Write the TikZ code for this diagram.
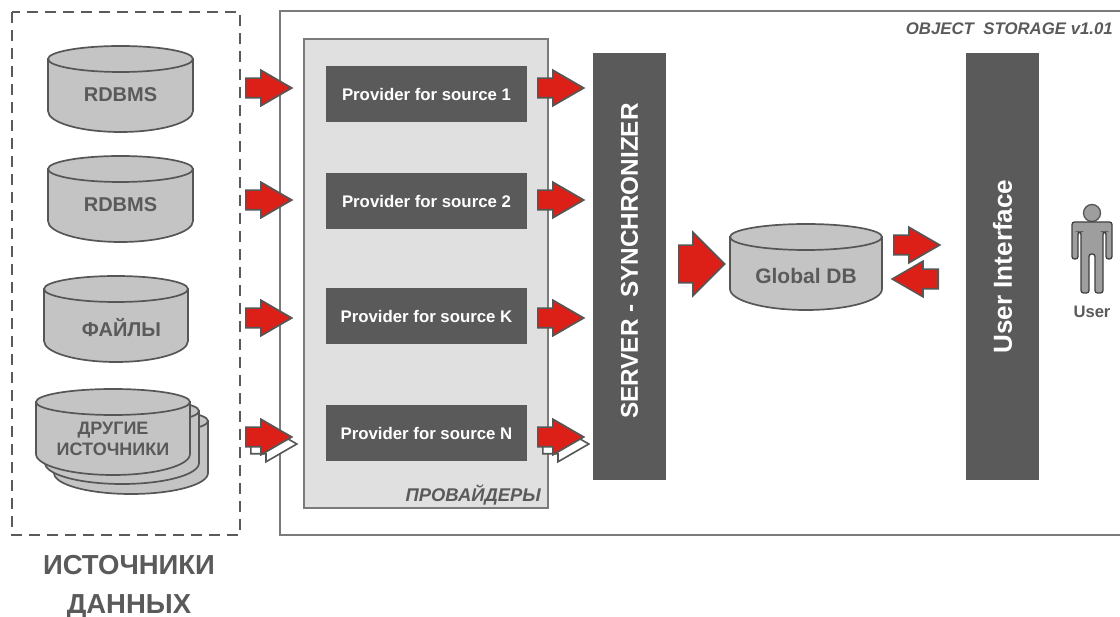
\documentclass[tikz,border=0pt]{standalone}
\usepackage{fontspec}
\setmainfont{Liberation Sans}
\usetikzlibrary{shapes.arrows}
\definecolor{darkgrey}{HTML}{5A5A5A}
\definecolor{edgegrey}{HTML}{565656}
\definecolor{cylgrey}{HTML}{C4C4C4}
\definecolor{panelgrey}{HTML}{E0E0E0}
\definecolor{flowred}{HTML}{DC1F17}
\newcommand{\fsize}[1]{\fontsize{#1}{#1}\selectfont\bfseries}
\tikzset{
    flow/.style={single arrow, anchor=tail, draw=edgegrey, fill=flowred, line width=1.6pt, inner xsep=0pt, inner ysep=9pt,
        single arrow tip angle=60, single arrow head extend=8pt, minimum width=34pt, minimum height=46pt},
    flowback/.style={flow, fill=white},
    provider/.style={fill=darkgrey, text=white, minimum width=201pt, minimum height=56pt, inner sep=0pt, font=\fsize{16.8}},
    pillar/.style={fill=darkgrey, text=white, rotate=90, minimum width=427pt, minimum height=73pt, inner sep=0pt},
    cyltext/.style={text=darkgrey, align=center, inner sep=0pt},
    caption/.style={text=darkgrey, inner sep=0pt}
}
% cylinder: name, x, y of top ellipse, half width, text
\newcommand{\dbcyl}[5]{
    \draw [draw=edgegrey, fill=cylgrey, line width=1.7pt] (#2-#4,#3) -- (#2-#4,#3+52)
        arc [start angle=180, end angle=0, x radius=#4, y radius=21] -- (#2+#4,#3) -- cycle;
    \draw [draw=edgegrey, fill=cylgrey, line width=1.7pt] (#2,#3) ellipse [x radius=#4, y radius=13];
    \node [cyltext, font=\fsize{20}] (#1) at (#2,#3+36) {#5};
}
\begin{document}
\begin{tikzpicture}[x=1pt, y=-1pt]
    \useasboundingbox (0,0) rectangle (1120,617);
    % frames
    \draw [draw=darkgrey, line width=1.1pt, dash pattern=on 11pt off 7pt] (12,12) rectangle (240,535);
    \draw [draw=darkgrey!80, line width=1.1pt] (1120,11) -- (280,11) -- (280,535) -- (1120,535);
    \node [fill=panelgrey, draw=darkgrey!80, line width=1.1pt, minimum width=244pt, minimum height=469pt, inner sep=0pt] (panel) at (426,273.5) {};
    % sources
    \dbcyl{rdbmsa}{120.5}{59}{72.5}{RDBMS}
    \dbcyl{rdbmsb}{120.5}{169}{72.5}{RDBMS}
    \dbcyl{filesbody}{116}{289}{72}{}
    \node [cyltext, font=\fsize{20}] (files) at (121.5,328) {ФАЙЛЫ};
    \dbcyl{stackc}{131}{421}{77}{}
    \dbcyl{stackb}{122}{411}{77}{}
    \dbcyl{others}{113}{402}{77}{}
    \node [cyltext, font=\fsize{18}] (otherstext) at (113,439) {ДРУГИЕ\\[3pt]ИСТОЧНИКИ};
    % providers
    \node [provider] (provone) at (426.5,94) {Provider for source 1};
    \node [provider] (provtwo) at (426.5,201) {Provider for source 2};
    \node [provider] (provk) at (426.5,316) {Provider for source K};
    \node [provider] (provn) at (426.5,433) {Provider for source N};
    % columns
    \node [pillar, font=\fsize{24.3}] (server) at (629.5,266.5) {\hspace*{11pt}SERVER - SYNCHRONIZER};
    \node [pillar, font=\fsize{26.1}] (ui) at (1002.5,266.5) {User Interface};
    \dbcyl{globaldb}{806}{237}{76}{}
    \node [cyltext, font=\fsize{21}] (dbtext) at (806,276) {Global DB};
    % user
    \node [circle, draw=edgegrey, fill=black!38, line width=1.3pt, minimum size=17pt, inner sep=0pt] (head) at (1092,213) {};
    \draw [draw=black!75, fill=black!38, line width=1.3pt, rounded corners=2.5pt] (1072,222) -- (1112,222) -- (1112,259) -- (1106,259) -- (1106,232)
        -- (1103,232) -- (1103,293) -- (1095,293) -- (1095,254) -- (1089,254) -- (1089,293) -- (1081,293)
        -- (1081,232) -- (1078,232) -- (1078,259) -- (1072,259) -- cycle;
    \node [caption, font=\fsize{16.6}] (user) at (1092,312) {User};
    % arrows
    \node [flow] (ina) at (245,88) {};
    \node [flow] (inb) at (245,200) {};
    \node [flow] (inc) at (245,318) {};
    \node [flowback] (indback) at (250,444) {};
    \node [flow] (ind) at (245,437) {};
    \node [flow] (outa) at (537,88) {};
    \node [flow] (outb) at (537,200) {};
    \node [flow] (outc) at (537,318) {};
    \node [flowback] (outdback) at (542,444) {};
    \node [flow] (outd) at (537,437) {};
    \node [flow, inner ysep=18pt, single arrow tip angle=90, single arrow head extend=13pt, minimum width=62pt] (big) at (678,264) {};
    \node [flow] (toui) at (893,245) {};
    \node [flow, shape border rotate=180] (fromui) at (939,279) {};
    % labels
    \node [caption, anchor=east, font=\fsize{16.8}\itshape] (storage) at (1113,29) {OBJECT\ \ STORAGE v1.01};
    \node [caption, anchor=east, font=\fsize{18.4}\itshape] (provlabel) at (541,495) {ПРОВАЙДЕРЫ};
    \node [caption, anchor=base, font=\fsize{27.5}] (srca) at (129,575) {ИСТОЧНИКИ};
    \node [caption, anchor=base, font=\fsize{27.5}] (srcb) at (129,613) {ДАННЫХ};
\end{tikzpicture}
\end{document}
